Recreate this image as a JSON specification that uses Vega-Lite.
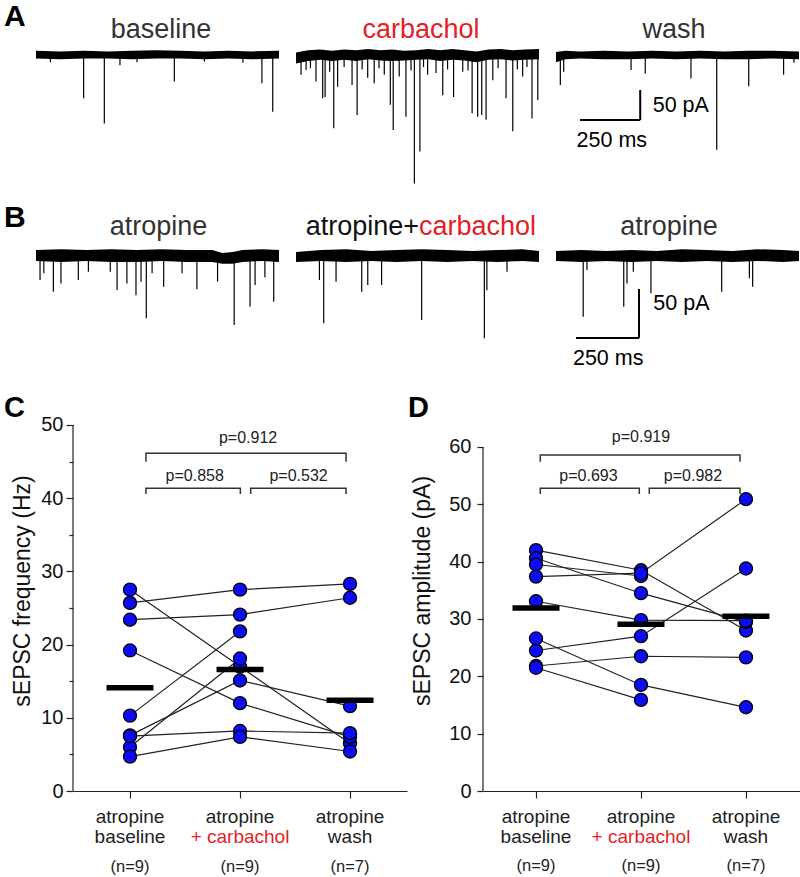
{
  "$schema": "https://vega.github.io/schema/vega-lite/v6.json",
  "padding": {"left": 3, "top": 0, "right": 0, "bottom": 0},
  "autosize": {"type": "pad"},
  "background": "white",
  "spacing": 10,
  "bounds": "full",
  "datasets": {
    "events": [
      {"tr":"A1","t":198,"amp":-72},{"tr":"A1","t":284,"amp":-114},{"tr":"A1","t":349,"amp":-17},{"tr":"A1","t":575,"amp":-44},{"tr":"A1","t":939,"amp":-47},{"tr":"A1","t":984,"amp":-94.5},{"tr":"A1","t":60,"amp":-12},{"tr":"A1","t":420,"amp":-12},{"tr":"A1","t":700,"amp":-11},{"tr":"A1","t":860,"amp":-13},
      {"tr":"A2","t":21,"amp":-33},{"tr":"A2","t":42,"amp":-25},{"tr":"A2","t":83,"amp":-44},{"tr":"A2","t":111,"amp":-72},{"tr":"A2","t":121,"amp":-70},{"tr":"A2","t":157,"amp":-122},{"tr":"A2","t":173,"amp":-53},{"tr":"A2","t":233,"amp":-50},{"tr":"A2","t":254,"amp":-100},{"tr":"A2","t":298,"amp":-38},{"tr":"A2","t":325,"amp":-47},{"tr":"A2","t":367,"amp":-33},{"tr":"A2","t":392,"amp":-83},{"tr":"A2","t":404,"amp":-125},{"tr":"A2","t":429,"amp":-36},{"tr":"A2","t":457,"amp":-103},{"tr":"A2","t":492,"amp":-214},{"tr":"A2","t":515,"amp":-161},{"tr":"A2","t":547,"amp":-33},{"tr":"A2","t":582,"amp":-30},{"tr":"A2","t":610,"amp":-67},{"tr":"A2","t":655,"amp":-70},{"tr":"A2","t":693,"amp":-28},{"tr":"A2","t":732,"amp":-97},{"tr":"A2","t":755,"amp":-103},{"tr":"A2","t":772,"amp":-100},{"tr":"A2","t":790,"amp":-108},{"tr":"A2","t":818,"amp":-42},{"tr":"A2","t":873,"amp":-72},{"tr":"A2","t":901,"amp":-127},{"tr":"A2","t":942,"amp":-36},{"tr":"A2","t":981,"amp":-106},{"tr":"A2","t":1005,"amp":-75},
      {"tr":"A2","t":60,"amp":-22},{"tr":"A2","t":140,"amp":-28},{"tr":"A2","t":200,"amp":-20},{"tr":"A2","t":275,"amp":-24},{"tr":"A2","t":345,"amp":-22},{"tr":"A2","t":478,"amp":-26},{"tr":"A2","t":530,"amp":-20},{"tr":"A2","t":630,"amp":-24},{"tr":"A2","t":715,"amp":-26},{"tr":"A2","t":840,"amp":-22},{"tr":"A2","t":920,"amp":-24},{"tr":"A2","t":960,"amp":-20},
      {"tr":"A3","t":18,"amp":-50},{"tr":"A3","t":32,"amp":-28},{"tr":"A3","t":312,"amp":-25},{"tr":"A3","t":371,"amp":-31},{"tr":"A3","t":561,"amp":-39},{"tr":"A3","t":668,"amp":-158},{"tr":"A3","t":801,"amp":-52},{"tr":"A3","t":946,"amp":-33},{"tr":"A3","t":989,"amp":-13},
      {"tr":"B1","t":16,"amp":-24.5},{"tr":"B1","t":31,"amp":-17.7},{"tr":"B1","t":69,"amp":-36.4},{"tr":"B1","t":99,"amp":-28},{"tr":"B1","t":168,"amp":-24.5},{"tr":"B1","t":208,"amp":-16},{"tr":"B1","t":295,"amp":-16},{"tr":"B1","t":322,"amp":-34.7},{"tr":"B1","t":361,"amp":-28},{"tr":"B1","t":397,"amp":-40},{"tr":"B1","t":417,"amp":-26.2},{"tr":"B1","t":438,"amp":-63.6},{"tr":"B1","t":461,"amp":-17.7},{"tr":"B1","t":507,"amp":-31.3},{"tr":"B1","t":580,"amp":-17.7},{"tr":"B1","t":639,"amp":-34},{"tr":"B1","t":721,"amp":-26.2},{"tr":"B1","t":787,"amp":-70.4},{"tr":"B1","t":850,"amp":-51.7},{"tr":"B1","t":870,"amp":-29.6},{"tr":"B1","t":909,"amp":-21.8},{"tr":"B1","t":944,"amp":-46.6},
      {"tr":"B2","t":93,"amp":-24.5},{"tr":"B2","t":110,"amp":-68.7},{"tr":"B2","t":159,"amp":-26.2},{"tr":"B2","t":261,"amp":-36.4},{"tr":"B2","t":285,"amp":-29.6},{"tr":"B2","t":340,"amp":-29.6},{"tr":"B2","t":499,"amp":-65.3},{"tr":"B2","t":748,"amp":-84},{"tr":"B2","t":758,"amp":-35},{"tr":"B2","t":838,"amp":-16},
      {"tr":"B3","t":108,"amp":-61.9},{"tr":"B3","t":123,"amp":-14.3},{"tr":"B3","t":269,"amp":-51.7},{"tr":"B3","t":282,"amp":-28},{"tr":"B3","t":307,"amp":-16},{"tr":"B3","t":377,"amp":-38},{"tr":"B3","t":658,"amp":-36.4},{"tr":"B3","t":768,"amp":-22.8},{"tr":"B3","t":781,"amp":-31.3}
    ],
    "bands": [
      {"tr":"A1","t":0,"hi":7,"lo":-6},{"tr":"A1","t":100,"hi":6,"lo":-7},{"tr":"A1","t":200,"hi":7,"lo":-6},{"tr":"A1","t":300,"hi":6,"lo":-6},{"tr":"A1","t":400,"hi":7,"lo":-7},{"tr":"A1","t":500,"hi":8,"lo":-6},{"tr":"A1","t":600,"hi":7,"lo":-6},{"tr":"A1","t":700,"hi":6,"lo":-7},{"tr":"A1","t":800,"hi":7,"lo":-6},{"tr":"A1","t":900,"hi":6,"lo":-7},{"tr":"A1","t":1010,"hi":7,"lo":-6},
      {"tr":"A2","t":0,"hi":4,"lo":-14},{"tr":"A2","t":50,"hi":8,"lo":-10},{"tr":"A2","t":100,"hi":9,"lo":-8},{"tr":"A2","t":150,"hi":7,"lo":-10},{"tr":"A2","t":200,"hi":9,"lo":-8},{"tr":"A2","t":250,"hi":8,"lo":-10},{"tr":"A2","t":300,"hi":10,"lo":-7},{"tr":"A2","t":350,"hi":8,"lo":-9},{"tr":"A2","t":400,"hi":9,"lo":-10},{"tr":"A2","t":450,"hi":7,"lo":-9},{"tr":"A2","t":500,"hi":8,"lo":-8},{"tr":"A2","t":550,"hi":10,"lo":-7},{"tr":"A2","t":600,"hi":8,"lo":-10},{"tr":"A2","t":650,"hi":10,"lo":-8},{"tr":"A2","t":700,"hi":8,"lo":-9},{"tr":"A2","t":750,"hi":6,"lo":-12},{"tr":"A2","t":800,"hi":9,"lo":-8},{"tr":"A2","t":850,"hi":10,"lo":-7},{"tr":"A2","t":900,"hi":8,"lo":-9},{"tr":"A2","t":950,"hi":9,"lo":-8},{"tr":"A2","t":1010,"hi":10,"lo":-7},
      {"tr":"A3","t":0,"hi":5,"lo":-12},{"tr":"A3","t":40,"hi":7,"lo":-7},{"tr":"A3","t":100,"hi":6,"lo":-6},{"tr":"A3","t":200,"hi":7,"lo":-7},{"tr":"A3","t":300,"hi":6,"lo":-7},{"tr":"A3","t":400,"hi":7,"lo":-6},{"tr":"A3","t":500,"hi":6,"lo":-7},{"tr":"A3","t":600,"hi":7,"lo":-6},{"tr":"A3","t":700,"hi":6,"lo":-7},{"tr":"A3","t":800,"hi":7,"lo":-7},{"tr":"A3","t":900,"hi":7,"lo":-6},{"tr":"A3","t":1010,"hi":6,"lo":-7},
      {"tr":"B1","t":0,"hi":6,"lo":-5},{"tr":"B1","t":100,"hi":7,"lo":-6},{"tr":"B1","t":200,"hi":6,"lo":-5},{"tr":"B1","t":300,"hi":7,"lo":-6},{"tr":"B1","t":400,"hi":6,"lo":-6},{"tr":"B1","t":500,"hi":7,"lo":-5},{"tr":"B1","t":600,"hi":6,"lo":-6},{"tr":"B1","t":700,"hi":6,"lo":-6},{"tr":"B1","t":740,"hi":3,"lo":-8},{"tr":"B1","t":780,"hi":4,"lo":-8},{"tr":"B1","t":820,"hi":6,"lo":-6},{"tr":"B1","t":900,"hi":7,"lo":-5},{"tr":"B1","t":965,"hi":6,"lo":-6},
      {"tr":"B2","t":0,"hi":4,"lo":-6},{"tr":"B2","t":100,"hi":6,"lo":-5},{"tr":"B2","t":200,"hi":7,"lo":-6},{"tr":"B2","t":300,"hi":5,"lo":-5},{"tr":"B2","t":400,"hi":6,"lo":-6},{"tr":"B2","t":500,"hi":7,"lo":-5},{"tr":"B2","t":600,"hi":6,"lo":-6},{"tr":"B2","t":700,"hi":5,"lo":-5},{"tr":"B2","t":800,"hi":6,"lo":-6},{"tr":"B2","t":900,"hi":7,"lo":-5},{"tr":"B2","t":965,"hi":5,"lo":-6},
      {"tr":"B3","t":0,"hi":5,"lo":-5},{"tr":"B3","t":100,"hi":6,"lo":-6},{"tr":"B3","t":200,"hi":5,"lo":-5},{"tr":"B3","t":300,"hi":6,"lo":-6},{"tr":"B3","t":400,"hi":5,"lo":-5},{"tr":"B3","t":500,"hi":7,"lo":-6},{"tr":"B3","t":600,"hi":6,"lo":-5},{"tr":"B3","t":700,"hi":5,"lo":-6},{"tr":"B3","t":800,"hi":7,"lo":-5},{"tr":"B3","t":900,"hi":6,"lo":-6},{"tr":"B3","t":965,"hi":5,"lo":-5}
    ],
    "pairs": [
      {"p":"C","s":1,"cond":1,"value":27.5},{"p":"C","s":1,"cond":2,"value":17.0},{"p":"C","s":1,"cond":3,"value":6.5},
      {"p":"C","s":2,"cond":1,"value":25.7},{"p":"C","s":2,"cond":2,"value":27.5},{"p":"C","s":2,"cond":3,"value":28.3},
      {"p":"C","s":3,"cond":1,"value":23.4},{"p":"C","s":3,"cond":2,"value":24.1},{"p":"C","s":3,"cond":3,"value":26.4},
      {"p":"C","s":4,"cond":1,"value":19.2},{"p":"C","s":4,"cond":2,"value":12.0},{"p":"C","s":4,"cond":3,"value":7.4},
      {"p":"C","s":5,"cond":1,"value":10.3},{"p":"C","s":5,"cond":2,"value":21.8},
      {"p":"C","s":6,"cond":1,"value":6.0},{"p":"C","s":6,"cond":2,"value":18.1},
      {"p":"C","s":7,"cond":1,"value":7.6},{"p":"C","s":7,"cond":2,"value":15.1},{"p":"C","s":7,"cond":3,"value":11.6},
      {"p":"C","s":8,"cond":1,"value":7.5},{"p":"C","s":8,"cond":2,"value":8.2},{"p":"C","s":8,"cond":3,"value":7.9},
      {"p":"C","s":9,"cond":1,"value":4.7},{"p":"C","s":9,"cond":2,"value":7.4},{"p":"C","s":9,"cond":3,"value":5.4},
      {"p":"D","s":1,"cond":1,"value":42.0},{"p":"D","s":1,"cond":2,"value":38.5},{"p":"D","s":1,"cond":3,"value":28.0},
      {"p":"D","s":2,"cond":1,"value":40.6},{"p":"D","s":2,"cond":2,"value":34.5},{"p":"D","s":2,"cond":3,"value":29.5},
      {"p":"D","s":3,"cond":1,"value":39.5},{"p":"D","s":3,"cond":2,"value":37.5},
      {"p":"D","s":4,"cond":1,"value":37.4},{"p":"D","s":4,"cond":2,"value":38.0},{"p":"D","s":4,"cond":3,"value":50.9},
      {"p":"D","s":5,"cond":1,"value":33.1},{"p":"D","s":5,"cond":2,"value":29.8},{"p":"D","s":5,"cond":3,"value":29.7},
      {"p":"D","s":6,"cond":1,"value":26.6},{"p":"D","s":6,"cond":2,"value":18.5},{"p":"D","s":6,"cond":3,"value":14.6},
      {"p":"D","s":7,"cond":1,"value":24.5},{"p":"D","s":7,"cond":2,"value":27.0},{"p":"D","s":7,"cond":3,"value":38.8},
      {"p":"D","s":8,"cond":1,"value":21.8},{"p":"D","s":8,"cond":2,"value":23.5},{"p":"D","s":8,"cond":3,"value":23.3},
      {"p":"D","s":9,"cond":1,"value":21.5},{"p":"D","s":9,"cond":2,"value":15.9}
    ],
    "means": [
      {"p":"C","cond":1,"value":14.1},{"p":"C","cond":2,"value":16.6},{"p":"C","cond":3,"value":12.4},
      {"p":"D","cond":1,"value":31.9},{"p":"D","cond":2,"value":29.1},{"p":"D","cond":3,"value":30.5}
    ],
    "brackets": [
      {"p":"C","b":"top","k":0,"cond":1.145,"value":44.99},{"p":"C","b":"top","k":1,"cond":1.145,"value":46.13},{"p":"C","b":"top","k":2,"cond":2.964,"value":46.13},{"p":"C","b":"top","k":3,"cond":2.964,"value":44.99},
      {"p":"C","b":"left","k":0,"cond":1.145,"value":40.57},{"p":"C","b":"left","k":1,"cond":1.145,"value":41.35},{"p":"C","b":"left","k":2,"cond":2.003,"value":41.35},{"p":"C","b":"left","k":3,"cond":2.003,"value":40.57},
      {"p":"C","b":"right","k":0,"cond":2.097,"value":40.57},{"p":"C","b":"right","k":1,"cond":2.097,"value":41.35},{"p":"C","b":"right","k":2,"cond":2.964,"value":41.35},{"p":"C","b":"right","k":3,"cond":2.964,"value":40.57},
      {"p":"D","b":"top","k":0,"cond":1.041,"value":57.44},{"p":"D","b":"top","k":1,"cond":1.041,"value":58.6},{"p":"D","b":"top","k":2,"cond":2.943,"value":58.6},{"p":"D","b":"top","k":3,"cond":2.943,"value":57.44},
      {"p":"D","b":"left","k":0,"cond":1.041,"value":51.8},{"p":"D","b":"left","k":1,"cond":1.041,"value":52.8},{"p":"D","b":"left","k":2,"cond":1.984,"value":52.8},{"p":"D","b":"left","k":3,"cond":1.984,"value":51.8},
      {"p":"D","b":"right","k":0,"cond":2.079,"value":51.8},{"p":"D","b":"right","k":1,"cond":2.079,"value":52.8},{"p":"D","b":"right","k":2,"cond":2.943,"value":52.8},{"p":"D","b":"right","k":3,"cond":2.943,"value":51.8}
    ],
    "pvals": [
      {"p":"C","label":"p=0.912","cond":2.073,"value":47.6},{"p":"C","label":"p=0.858","cond":1.588,"value":42.4},{"p":"C","label":"p=0.532","cond":2.532,"value":42.4},
      {"p":"D","label":"p=0.919","cond":2.0,"value":60.8},{"p":"D","label":"p=0.693","cond":1.5,"value":54.1},{"p":"D","label":"p=0.982","cond":2.495,"value":54.1}
    ],
    "xlabels": [
      {"cond":1,"l1":"atropine","l2":"baseline","n":"(n=9)"},
      {"cond":2,"l1":"atropine","l2":"+ carbachol","n":"(n=9)"},
      {"cond":3,"l1":"atropine","l2":"wash","n":"(n=7)"}
    ]
  },
  "vconcat": [
    {
      "hconcat": [
        {
          "width": 206, "height": 190,
          "layer": [
            {"data": {"name": "bands"}, "transform": [{"filter": "datum.tr === 'A1'"}], "mark": {"type": "area", "color": "black"},
             "encoding": {"x": {"field": "t", "type": "quantitative", "scale": {"domain": [153.8, 1010], "nice": false}, "axis": null},
                          "y": {"field": "hi", "type": "quantitative", "scale": {"domain": [-225, 91.67], "nice": false}, "axis": null},
                          "y2": {"field": "lo"}}},
            {"data": {"name": "events"}, "transform": [{"filter": "datum.tr === 'A1'"}], "mark": {"type": "rule", "color": "black", "strokeWidth": 1.2},
             "encoding": {"x": {"field": "t", "type": "quantitative", "axis": null}, "y": {"field": "amp", "type": "quantitative", "axis": null}, "y2": {"datum": 0}}},
            {"data": {"values": [{}]}, "mark": {"type": "text", "text": "A", "fontSize": 30, "fontWeight": "bold", "align": "left", "baseline": "alphabetic", "color": "black"},
             "encoding": {"x": {"datum": -133, "axis": null}, "y": {"datum": 48.33, "axis": null}}},
            {"data": {"values": [{}]}, "mark": {"type": "text", "text": "baseline", "fontSize": 27, "align": "center", "baseline": "alphabetic", "color": "#333333"},
             "encoding": {"x": {"datum": 519.6, "axis": null}, "y": {"datum": 28.33, "axis": null}}}
          ]
        },
        {
          "width": 243, "height": 190,
          "layer": [
            {"data": {"name": "bands"}, "transform": [{"filter": "datum.tr === 'A2'"}], "mark": {"type": "area", "color": "black"},
             "encoding": {"x": {"field": "t", "type": "quantitative", "scale": {"domain": [0, 1010], "nice": false}, "axis": null},
                          "y": {"field": "hi", "type": "quantitative", "scale": {"domain": [-225, 91.67], "nice": false}, "axis": null},
                          "y2": {"field": "lo"}}},
            {"data": {"name": "events"}, "transform": [{"filter": "datum.tr === 'A2'"}], "mark": {"type": "rule", "color": "black", "strokeWidth": 1.2},
             "encoding": {"x": {"field": "t", "type": "quantitative", "axis": null}, "y": {"field": "amp", "type": "quantitative", "axis": null}, "y2": {"datum": 0}}},
            {"data": {"values": [{}]}, "mark": {"type": "text", "text": "carbachol", "fontSize": 27, "align": "center", "baseline": "alphabetic", "color": "#e41e26"},
             "encoding": {"x": {"datum": 519.6, "axis": null}, "y": {"datum": 28.33, "axis": null}}}
          ]
        },
        {
          "width": 243, "height": 190,
          "layer": [
            {"data": {"name": "bands"}, "transform": [{"filter": "datum.tr === 'A3'"}], "mark": {"type": "area", "color": "black"},
             "encoding": {"x": {"field": "t", "type": "quantitative", "scale": {"domain": [0, 1010], "nice": false}, "axis": null},
                          "y": {"field": "hi", "type": "quantitative", "scale": {"domain": [-225, 91.67], "nice": false}, "axis": null},
                          "y2": {"field": "lo"}}},
            {"data": {"name": "events"}, "transform": [{"filter": "datum.tr === 'A3'"}], "mark": {"type": "rule", "color": "black", "strokeWidth": 1.2},
             "encoding": {"x": {"field": "t", "type": "quantitative", "axis": null}, "y": {"field": "amp", "type": "quantitative", "axis": null}, "y2": {"datum": 0}}},
            {"data": {"values": [{}]}, "mark": {"type": "text", "text": "wash", "fontSize": 27, "align": "center", "baseline": "alphabetic", "color": "#333333"},
             "encoding": {"x": {"datum": 490.5, "axis": null}, "y": {"datum": 28.33, "axis": null}}},
            {"data": {"values": [{}]}, "mark": {"type": "rule", "color": "black", "strokeWidth": 2},
             "encoding": {"x": {"datum": 100, "axis": null}, "x2": {"datum": 350}, "y": {"datum": -108.3, "axis": null}}},
            {"data": {"values": [{}]}, "mark": {"type": "rule", "color": "black", "strokeWidth": 2},
             "encoding": {"x": {"datum": 350, "axis": null}, "y": {"datum": -108.3, "axis": null}, "y2": {"datum": -58.3}}},
            {"data": {"values": [{}]}, "mark": {"type": "text", "text": "50 pA", "fontSize": 21.5, "align": "left", "baseline": "alphabetic", "color": "black"},
             "encoding": {"x": {"datum": 402, "axis": null}, "y": {"datum": -95.5, "axis": null}}},
            {"data": {"values": [{}]}, "mark": {"type": "text", "text": "250 ms", "fontSize": 21.5, "align": "center", "baseline": "alphabetic", "color": "black"},
             "encoding": {"x": {"datum": 232, "axis": null}, "y": {"datum": -152.8, "axis": null}}}
          ]
        }
      ],
      "spacing": 17,
      "bounds": "flush"
    },
    {
      "hconcat": [
        {
          "width": 206, "height": 180,
          "layer": [
            {"data": {"name": "bands"}, "transform": [{"filter": "datum.tr === 'B1'"}], "mark": {"type": "area", "color": "black"},
             "encoding": {"x": {"field": "t", "type": "quantitative", "scale": {"domain": [146.9, 965], "nice": false}, "axis": null},
                          "y": {"field": "hi", "type": "quantitative", "scale": {"domain": [-126.53, 57.14], "nice": false}, "axis": null},
                          "y2": {"field": "lo"}}},
            {"data": {"name": "events"}, "transform": [{"filter": "datum.tr === 'B1'"}], "mark": {"type": "rule", "color": "black", "strokeWidth": 1.2},
             "encoding": {"x": {"field": "t", "type": "quantitative", "axis": null}, "y": {"field": "amp", "type": "quantitative", "axis": null}, "y2": {"datum": 0}}},
            {"data": {"values": [{}]}, "mark": {"type": "text", "text": "B", "fontSize": 30, "fontWeight": "bold", "align": "left", "baseline": "alphabetic", "color": "black"},
             "encoding": {"x": {"datum": -127.1, "axis": null}, "y": {"datum": 29.6, "axis": null}}},
            {"data": {"values": [{}]}, "mark": {"type": "text", "text": "atropine", "fontSize": 27, "align": "center", "baseline": "alphabetic", "color": "#333333"},
             "encoding": {"x": {"datum": 486.5, "axis": null}, "y": {"datum": 21.43, "axis": null}}}
          ]
        },
        {
          "width": 243, "height": 180,
          "layer": [
            {"data": {"name": "bands"}, "transform": [{"filter": "datum.tr === 'B2'"}], "mark": {"type": "area", "color": "black"},
             "encoding": {"x": {"field": "t", "type": "quantitative", "scale": {"domain": [0, 965], "nice": false}, "axis": null},
                          "y": {"field": "hi", "type": "quantitative", "scale": {"domain": [-126.53, 57.14], "nice": false}, "axis": null},
                          "y2": {"field": "lo"}}},
            {"data": {"name": "events"}, "transform": [{"filter": "datum.tr === 'B2'"}], "mark": {"type": "rule", "color": "black", "strokeWidth": 1.2},
             "encoding": {"x": {"field": "t", "type": "quantitative", "axis": null}, "y": {"field": "amp", "type": "quantitative", "axis": null}, "y2": {"datum": 0}}},
            {"data": {"values": [{}]}, "mark": {"type": "text", "text": "atropine+", "fontSize": 27, "align": "right", "baseline": "alphabetic", "color": "#111111"},
             "encoding": {"x": {"datum": 488.5, "axis": null}, "y": {"datum": 21.43, "axis": null}}},
            {"data": {"values": [{}]}, "mark": {"type": "text", "text": "carbachol", "fontSize": 27, "align": "left", "baseline": "alphabetic", "color": "#e41e26"},
             "encoding": {"x": {"datum": 488.5, "axis": null}, "y": {"datum": 21.43, "axis": null}}}
          ]
        },
        {
          "width": 243, "height": 180,
          "layer": [
            {"data": {"name": "bands"}, "transform": [{"filter": "datum.tr === 'B3'"}], "mark": {"type": "area", "color": "black"},
             "encoding": {"x": {"field": "t", "type": "quantitative", "scale": {"domain": [0, 965], "nice": false}, "axis": null},
                          "y": {"field": "hi", "type": "quantitative", "scale": {"domain": [-126.53, 57.14], "nice": false}, "axis": null},
                          "y2": {"field": "lo"}}},
            {"data": {"name": "events"}, "transform": [{"filter": "datum.tr === 'B3'"}], "mark": {"type": "rule", "color": "black", "strokeWidth": 1.2},
             "encoding": {"x": {"field": "t", "type": "quantitative", "axis": null}, "y": {"field": "amp", "type": "quantitative", "axis": null}, "y2": {"datum": 0}}},
            {"data": {"values": [{}]}, "mark": {"type": "text", "text": "atropine", "fontSize": 27, "align": "center", "baseline": "alphabetic", "color": "#333333"},
             "encoding": {"x": {"datum": 448.8, "axis": null}, "y": {"datum": 21.43, "axis": null}}},
            {"data": {"values": [{}]}, "mark": {"type": "rule", "color": "black", "strokeWidth": 2},
             "encoding": {"x": {"datum": 79.4, "axis": null}, "x2": {"datum": 329.6}, "y": {"datum": -83.7, "axis": null}}},
            {"data": {"values": [{}]}, "mark": {"type": "rule", "color": "black", "strokeWidth": 2},
             "encoding": {"x": {"datum": 329.6, "axis": null}, "y": {"datum": -83.7, "axis": null}, "y2": {"datum": -33.7}}},
            {"data": {"values": [{}]}, "mark": {"type": "text", "text": "50 pA", "fontSize": 21.5, "align": "left", "baseline": "alphabetic", "color": "black"},
             "encoding": {"x": {"datum": 386.4, "axis": null}, "y": {"datum": -55.1, "axis": null}}},
            {"data": {"values": [{}]}, "mark": {"type": "text", "text": "250 ms", "fontSize": 21.5, "align": "center", "baseline": "alphabetic", "color": "black"},
             "encoding": {"x": {"datum": 207.3, "axis": null}, "y": {"datum": -111.2, "axis": null}}}
          ]
        }
      ],
      "spacing": 17,
      "bounds": "flush"
    },
    {
      "hconcat": [
        {
          "width": 334, "height": 401,
          "layer": [
            {"data": {"name": "pairs"}, "transform": [{"filter": "datum.p === 'C'"}],
             "mark": {"type": "line", "color": "#222222", "strokeWidth": 1.2},
             "encoding": {
               "x": {"field": "cond", "type": "quantitative", "scale": {"domain": [0.4818, 3.518], "nice": false},
                     "axis": {"values": [1, 2, 3], "labels": false, "ticks": true, "tickSize": 7, "domain": true, "title": null, "grid": false}},
               "y": {"field": "value", "type": "quantitative", "scale": {"domain": [0, 54.78], "nice": false},
                     "axis": {"values": [0, 5, 10, 15, 20, 25, 30, 35, 40, 45, 50], "labelExpr": "datum.value % 10 === 0 ? datum.label : ''",
                              "tickSize": {"condition": {"test": "datum.value % 10 !== 0", "value": 4}, "value": 7},
                              "domain": false, "title": "sEPSC frequency (Hz)", "titlePadding": 6, "labelPadding": 3, "grid": false}},
               "detail": {"field": "s"}
             }},
            {"data": {"values": [{}]}, "mark": {"type": "rule", "color": "#222222", "strokeWidth": 1.2},
             "encoding": {"x": {"datum": 0.4818}, "y": {"datum": 0}, "y2": {"datum": 50}}},
            {"data": {"name": "brackets"}, "transform": [{"filter": "datum.p === 'C'"}],
             "mark": {"type": "line", "color": "#333333", "strokeWidth": 1.5},
             "encoding": {"x": {"field": "cond", "type": "quantitative"}, "y": {"field": "value", "type": "quantitative"}, "detail": {"field": "b"}, "order": {"field": "k"}}},
            {"data": {"name": "pvals"}, "transform": [{"filter": "datum.p === 'C'"}],
             "mark": {"type": "text", "fontSize": 16, "align": "center", "baseline": "alphabetic", "color": "#222222"},
             "encoding": {"x": {"field": "cond", "type": "quantitative"}, "y": {"field": "value", "type": "quantitative"}, "text": {"field": "label"}}},
            {"data": {"name": "pairs"}, "transform": [{"filter": "datum.p === 'C'"}],
             "mark": {"type": "circle", "size": 170, "color": "#0c0cf5", "stroke": "black", "strokeWidth": 1.3, "opacity": 1},
             "encoding": {"x": {"field": "cond", "type": "quantitative"}, "y": {"field": "value", "type": "quantitative"}}},
            {"data": {"name": "means"}, "transform": [{"filter": "datum.p === 'C'"}],
             "mark": {"type": "tick", "orient": "horizontal", "size": 47, "thickness": 5.5, "color": "black", "opacity": 1},
             "encoding": {"x": {"field": "cond", "type": "quantitative"}, "y": {"field": "value", "type": "quantitative"}}},
            {"data": {"name": "xlabels"}, "mark": {"type": "text", "fontSize": 19, "align": "center", "baseline": "alphabetic", "color": "#222222"},
             "encoding": {"x": {"field": "cond", "type": "quantitative"}, "y": {"datum": -4.33}, "text": {"field": "l1"}}},
            {"data": {"name": "xlabels"}, "mark": {"type": "text", "fontSize": 19, "align": "center", "baseline": "alphabetic"},
             "encoding": {"x": {"field": "cond", "type": "quantitative"}, "y": {"datum": -7.14}, "text": {"field": "l2"},
                          "color": {"condition": {"test": "datum.cond === 2", "value": "#e41e26"}, "value": "#222222"}}},
            {"data": {"name": "xlabels"}, "mark": {"type": "text", "fontSize": 16.5, "align": "center", "baseline": "alphabetic", "color": "#222222"},
             "encoding": {"x": {"field": "cond", "type": "quantitative"}, "y": {"datum": -11.0}, "text": {"field": "n"}}},
            {"data": {"values": [{}]}, "mark": {"type": "text", "text": "C", "fontSize": 29, "fontWeight": "bold", "align": "left", "baseline": "alphabetic", "color": "black"},
             "encoding": {"x": {"datum": -0.1455}, "y": {"datum": 51.09}}}
          ]
        },
        {
          "width": 318, "height": 401,
          "layer": [
            {"data": {"name": "pairs"}, "transform": [{"filter": "datum.p === 'D'"}],
             "mark": {"type": "line", "color": "#222222", "strokeWidth": 1.2},
             "encoding": {
               "x": {"field": "cond", "type": "quantitative", "scale": {"domain": [0.4952, 3.524], "nice": false},
                     "axis": {"values": [1, 2, 3], "labels": false, "ticks": true, "tickSize": 7, "domain": true, "title": null, "grid": false}},
               "y": {"field": "value", "type": "quantitative", "scale": {"domain": [0, 69.94], "nice": false},
                     "axis": {"values": [0, 5, 10, 15, 20, 25, 30, 35, 40, 45, 50, 55, 60], "labelExpr": "datum.value % 10 === 0 ? datum.label : ''",
                              "tickSize": {"condition": {"test": "datum.value % 10 !== 0", "value": 4}, "value": 6},
                              "domain": false, "title": "sEPSC amplitude (pA)", "titlePadding": 14, "labelPadding": 6, "grid": false}},
               "detail": {"field": "s"}
             }},
            {"data": {"values": [{}]}, "mark": {"type": "rule", "color": "#222222", "strokeWidth": 1.2},
             "encoding": {"x": {"datum": 0.4952}, "y": {"datum": 0}, "y2": {"datum": 60}}},
            {"data": {"name": "brackets"}, "transform": [{"filter": "datum.p === 'D'"}],
             "mark": {"type": "line", "color": "#333333", "strokeWidth": 1.5},
             "encoding": {"x": {"field": "cond", "type": "quantitative"}, "y": {"field": "value", "type": "quantitative"}, "detail": {"field": "b"}, "order": {"field": "k"}}},
            {"data": {"name": "pvals"}, "transform": [{"filter": "datum.p === 'D'"}],
             "mark": {"type": "text", "fontSize": 16, "align": "center", "baseline": "alphabetic", "color": "#222222"},
             "encoding": {"x": {"field": "cond", "type": "quantitative"}, "y": {"field": "value", "type": "quantitative"}, "text": {"field": "label"}}},
            {"data": {"name": "pairs"}, "transform": [{"filter": "datum.p === 'D'"}],
             "mark": {"type": "circle", "size": 170, "color": "#0c0cf5", "stroke": "black", "strokeWidth": 1.3, "opacity": 1},
             "encoding": {"x": {"field": "cond", "type": "quantitative"}, "y": {"field": "value", "type": "quantitative"}}},
            {"data": {"name": "means"}, "transform": [{"filter": "datum.p === 'D'"}],
             "mark": {"type": "tick", "orient": "horizontal", "size": 47, "thickness": 5.5, "color": "black", "opacity": 1},
             "encoding": {"x": {"field": "cond", "type": "quantitative"}, "y": {"field": "value", "type": "quantitative"}}},
            {"data": {"name": "xlabels"}, "mark": {"type": "text", "fontSize": 19, "align": "center", "baseline": "alphabetic", "color": "#222222"},
             "encoding": {"x": {"field": "cond", "type": "quantitative"}, "y": {"datum": -5.53}, "text": {"field": "l1"}}},
            {"data": {"name": "xlabels"}, "mark": {"type": "text", "fontSize": 19, "align": "center", "baseline": "alphabetic"},
             "encoding": {"x": {"field": "cond", "type": "quantitative"}, "y": {"datum": -9.12}, "text": {"field": "l2"},
                          "color": {"condition": {"test": "datum.cond === 2", "value": "#e41e26"}, "value": "#222222"}}},
            {"data": {"name": "xlabels"}, "mark": {"type": "text", "fontSize": 16.5, "align": "center", "baseline": "alphabetic", "color": "#222222"},
             "encoding": {"x": {"field": "cond", "type": "quantitative"}, "y": {"datum": -14.04}, "text": {"field": "n"}}},
            {"data": {"values": [{}]}, "mark": {"type": "text", "text": "D", "fontSize": 29, "fontWeight": "bold", "align": "left", "baseline": "alphabetic", "color": "black"},
             "encoding": {"x": {"datum": -0.219}, "y": {"datum": 65.23}}}
          ]
        }
      ],
      "spacing": 76,
      "bounds": "flush"
    }
  ],
  "config": {
    "view": {"stroke": null},
    "font": "Liberation Sans",
    "text": {"font": "Liberation Sans"},
    "axis": {"labelFont": "Liberation Sans", "labelFontSize": 20, "labelColor": "#111111", "titleFont": "Liberation Sans", "titleFontSize": 23, "titleFontWeight": "normal", "titleColor": "#111111", "domainColor": "#222222", "tickColor": "#222222", "domainWidth": 1.2, "tickWidth": 1.2, "grid": false}
  }
}
